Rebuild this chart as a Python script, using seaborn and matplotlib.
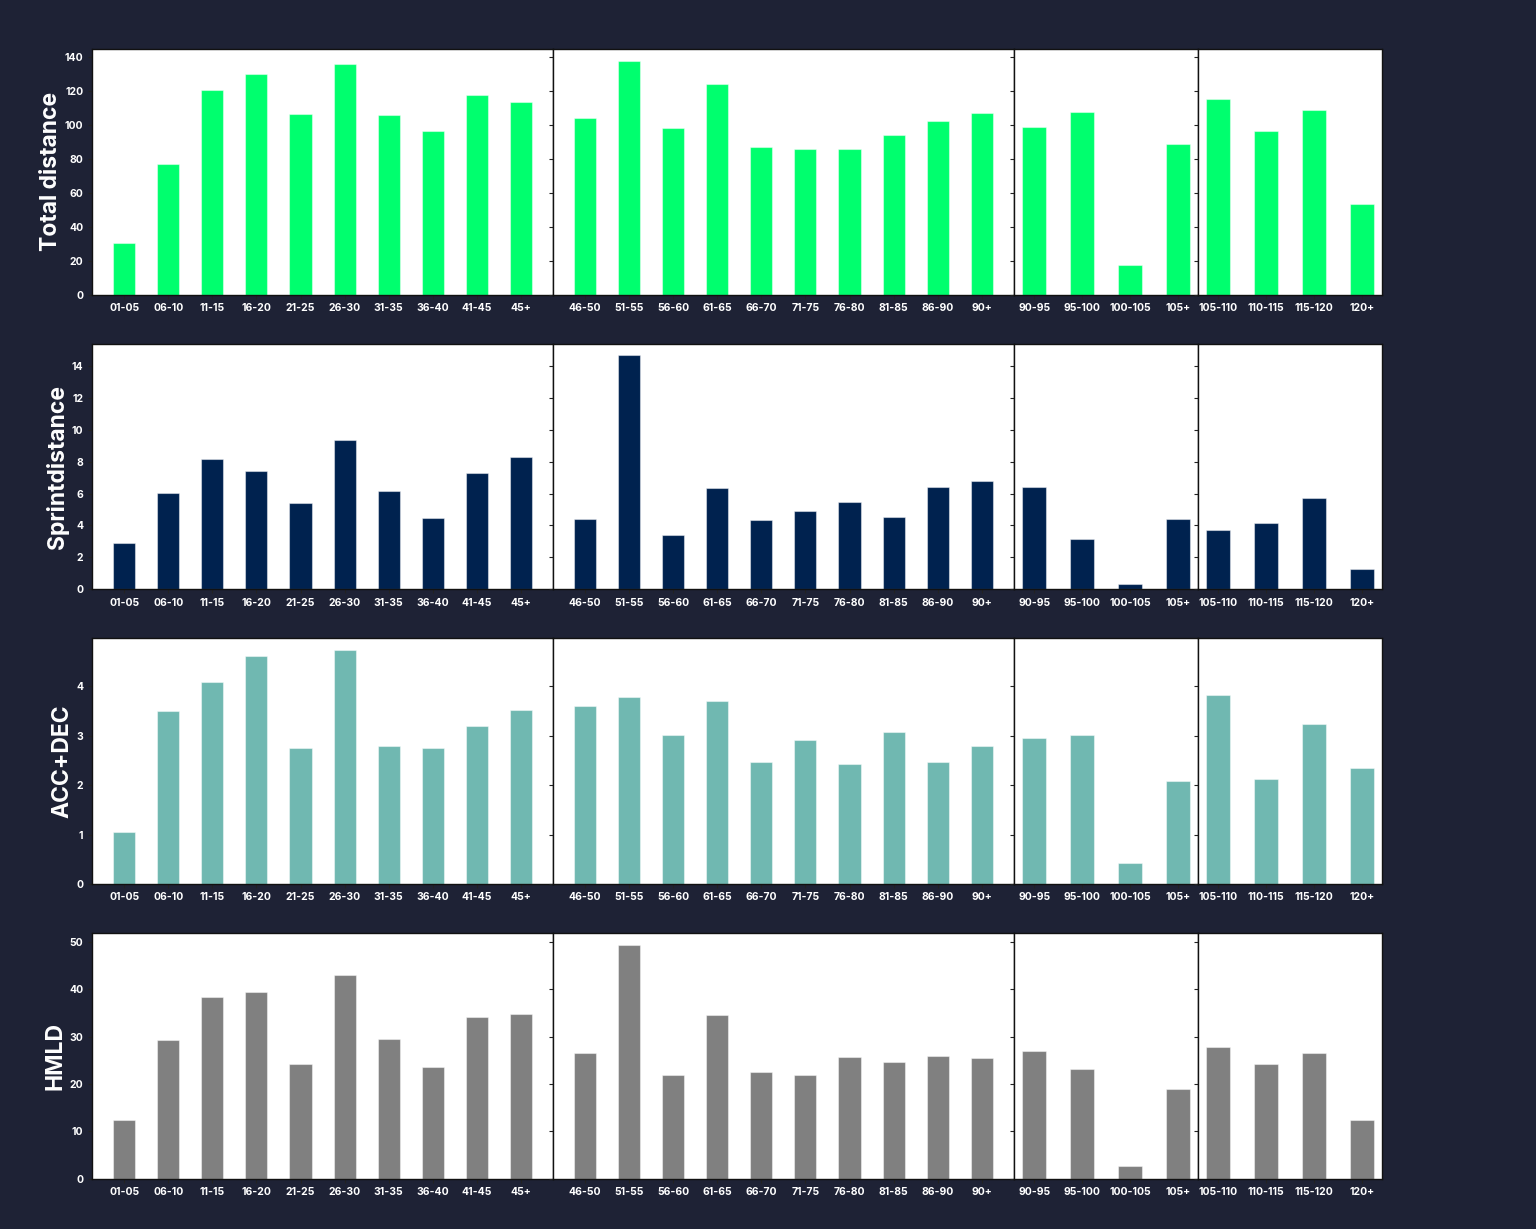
import matplotlib
matplotlib.use("Agg")
import matplotlib.pyplot as plt
import seaborn as sns
import pandas as pd

# ---- data ----
groups = [
    ["01-05", "06-10", "11-15", "16-20", "21-25", "26-30", "31-35", "36-40", "41-45", "45+"],
    ["46-50", "51-55", "56-60", "61-65", "66-70", "71-75", "76-80", "81-85", "86-90", "90+"],
    ["90-95", "95-100", "100-105", "105+"],
    ["105-110", "110-115", "115-120", "120+"],
]

total_distance = [
    [30.8, 77.1, 121.0, 130.2, 106.7, 135.9, 105.9, 96.7, 118.0, 113.7],
    [104.5, 138.0, 98.4, 124.1, 87.1, 85.9, 85.9, 94.5, 102.4, 107.1],
    [99.2, 107.6, 17.6, 88.8],
    [115.3, 96.5, 108.8, 53.7],
]
sprint_distance = [
    [2.88, 6.02, 8.17, 7.44, 5.38, 9.38, 6.15, 4.48, 7.29, 8.27],
    [4.40, 14.65, 3.40, 6.33, 4.35, 4.92, 5.46, 4.52, 6.44, 6.79],
    [6.40, 3.15, 0.33, 4.40],
    [3.71, 4.13, 5.73, 1.29],
]
acc_dec = [
    [1.05, 3.50, 4.09, 4.62, 2.76, 4.73, 2.80, 2.76, 3.19, 3.52],
    [3.61, 3.78, 3.01, 3.70, 2.47, 2.92, 2.43, 3.07, 2.47, 2.80],
    [2.95, 3.01, 0.42, 2.09],
    [3.82, 2.12, 3.23, 2.35],
]
hmld = [
    [12.3, 29.3, 38.3, 39.4, 24.3, 43.1, 29.4, 23.5, 34.2, 34.7],
    [26.6, 49.4, 21.8, 34.6, 22.6, 21.8, 25.6, 24.6, 26.0, 25.4],
    [27.0, 23.2, 2.6, 19.0],
    [27.9, 24.2, 26.6, 12.3],
]

metrics = ["Total distance", "Sprintdistance", "ACC+DEC", "HMLD"]
series = [total_distance, sprint_distance, acc_dec, hmld]
colors = ["#00FF6E", "#00224F", "#70B8B1", "#808080"]

# ---- style ----
BG = "#1E2235"
sns.set_theme(style="white")
plt.rcParams["font.family"] = ["Inter", "DejaVu Sans"]
plt.rcParams["font.weight"] = "bold"

fig = plt.figure(figsize=(15.36, 12.29), dpi=100, facecolor=BG)
gs = fig.add_gridspec(4, 4, width_ratios=[10, 10, 4, 4], wspace=0, hspace=0.2,
                      left=0.06, right=0.9, top=0.96, bottom=0.041)

bar_w = 0.5
for r in range(4):
    row_axes = []
    for c in range(4):
        ax = fig.add_subplot(gs[r, c], sharey=row_axes[0] if row_axes else None)
        row_axes.append(ax)
        df = pd.DataFrame({"cat": groups[c], "val": series[r][c]})
        sns.barplot(data=df, x="cat", y="val", color=colors[r], saturation=1,
                    width=bar_w, edgecolor=(1, 1, 1, 0.45), linewidth=0.8, ax=ax)
        n = len(groups[c])
        pad = 0.05 * (n - 1 + bar_w)
        ax.set_xlim(-bar_w / 2 - pad, n - 1 + bar_w / 2 + pad)
        ax.set_facecolor("white")
        for s in ax.spines.values():
            s.set_color("#111111")
            s.set_linewidth(1.0)
        ax.set_xlabel("")
        ax.tick_params(axis="x", colors="#222222", labelcolor="white", labelsize=7.5,
                       length=3, width=0.8, bottom=True, pad=3)
        ax.tick_params(axis="y", colors="#222222", labelcolor="white", labelsize=7.5,
                       length=3, width=0.8, left=True)
        for lab in ax.get_xticklabels() + ax.get_yticklabels():
            lab.set_fontweight("bold")
        if c == 0:
            ax.set_ylabel(metrics[r], color="white", fontsize=16.5, fontweight="bold",
                          labelpad=2)
        else:
            ax.set_ylabel("")
            ax.tick_params(axis="y", labelleft=False)
    row_axes[0].set_ylim(bottom=0)
    row_axes[0].autoscale(axis="y")
    row_axes[0].set_ylim(bottom=0)

fig.savefig("out.png", dpi=100, facecolor=BG)
